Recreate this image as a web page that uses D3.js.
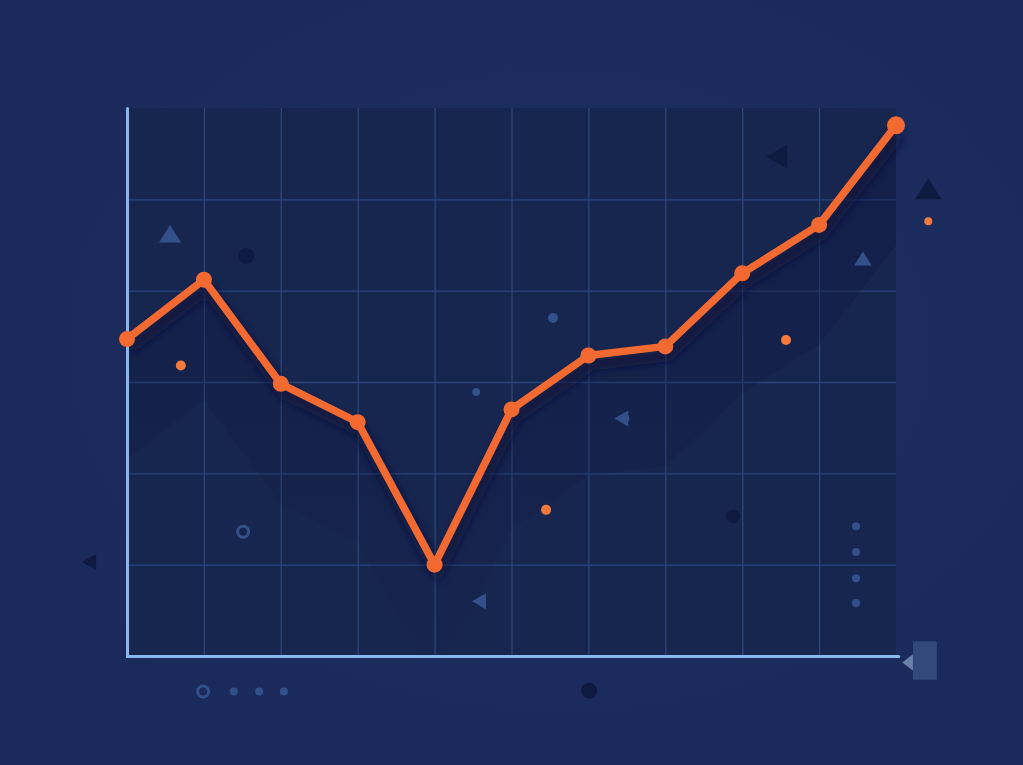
<!DOCTYPE html>
<html>
<head>
<meta charset="utf-8">
<script src="https://cdn.jsdelivr.net/npm/d3@7"></script>
<style>
  html, body { margin: 0; padding: 0; background: #1a2b5c; overflow: hidden; }
  svg { display: block; }
  .grid line { stroke: #2b4479; stroke-width: 1.4; }
  .grid path { display: none; }
  .axis path { stroke: #8ab6ee; stroke-width: 3; stroke-linecap: round; }
  .axis line, .axis text { display: none; }
</style>
</head>
<body>
<div id="chart-container"></div>
<script>
// x positions (no labels shown in the picture)
const categories = [0, 1, 2, 3, 4, 5, 6, 7, 8, 9, 10];
const values     = [3.47, 4.12, 2.98, 2.56, 1.0, 2.70, 3.29, 3.39, 4.19, 4.72, 5.81];

const xTicks = [1, 2, 3, 4, 5, 6, 7, 8, 9];
const yTicks = [1, 2, 3, 4, 5];

// decorative marks, in data units
const decoKind = ["triUp", "dot", "dotO", "dot", "dot", "triLeft", "dot", "dotO", "dot", "triLeft", "ring", "triLeft",
                  "triLeft", "triUp", "dotO", "triUp", "dotO", "dot", "dot", "dot", "dot", "ring", "dot", "dot", "dot", "dot"];
const decoX    = [0.56, 1.55, 0.70, 5.54, 4.54, 6.44, 6.48, 5.45, 7.88, 4.59, 1.51, -0.48,
                  8.47, 10.42, 10.42, 9.57, 8.57, 9.48, 9.48, 9.48, 9.48, 0.99, 1.39, 1.72, 2.04, 6.01];
const decoY    = [4.61, 4.38, 3.18, 3.70, 2.89, 2.60, 2.60, 1.60, 1.53, 0.60, 1.36, 1.03,
                  5.47, 5.10, 4.76, 4.34, 3.46, 1.42, 1.14, 0.85, 0.58, -0.39, -0.39, -0.39, -0.39, -0.38];
const decoTone = ["light", "dark", "orange", "light", "light", "light", "light", "orange", "dark", "light", "light", "dark",
                  "dark", "dark", "orange", "light", "orange", "light", "light", "light", "light", "light", "light", "light", "light", "dark"];
const decoSize = [10, 8, 5, 5, 4, 8, 4, 5, 7, 8, 7, 8,
                  12, 12, 4, 8, 5, 4, 4, 4, 4, 7, 4, 4, 4, 8];

const TONES = { light: "#34508a", dark: "#0f1a40", orange: "#f47a3c" };

const WIDTH = 1023, HEIGHT = 765;
const MARGIN = { top: 108, right: 127, bottom: 109, left: 127 };

const x = d3.scaleLinear().domain([0, 10]).range([MARGIN.left, WIDTH - MARGIN.right]);
const y = d3.scaleLinear().domain([0, 6]).range([HEIGHT - MARGIN.bottom, MARGIN.top]);

const svg = d3.select("#chart-container").append("svg")
  .attr("width", WIDTH).attr("height", HEIGHT);

const defs = svg.append("defs");
const bg = defs.append("radialGradient").attr("id", "bg").attr("cx", "55%").attr("cy", "45%").attr("r", "70%");
bg.append("stop").attr("offset", "0%").attr("stop-color", "#1c2e60");
bg.append("stop").attr("offset", "100%").attr("stop-color", "#19295a");

const under = defs.append("linearGradient").attr("id", "under").attr("x1", 0).attr("y1", 0).attr("x2", 0).attr("y2", 1);
under.append("stop").attr("offset", "0%").attr("stop-color", "#0c1740").attr("stop-opacity", 0.45);
under.append("stop").attr("offset", "100%").attr("stop-color", "#0c1740").attr("stop-opacity", 0);

defs.append("filter").attr("id", "blur").attr("x", "-10%").attr("y", "-10%").attr("width", "120%").attr("height", "120%")
  .append("feGaussianBlur").attr("stdDeviation", 5);

svg.append("rect").attr("width", WIDTH).attr("height", HEIGHT).attr("fill", "url(#bg)");

// Plot background
svg.append("rect")
  .attr("x", x(0)).attr("y", y(6))
  .attr("width", x(10) - x(0)).attr("height", y(0) - y(6))
  .attr("fill", "#17264f");

// Grid
svg.append("g").attr("class", "grid")
  .attr("transform", `translate(0, ${y(0)})`)
  .call(d3.axisBottom(x).tickValues(xTicks).tickSize(-(y(0) - y(6))).tickFormat(""));

svg.append("g").attr("class", "grid")
  .attr("transform", `translate(${x(0)}, 0)`)
  .call(d3.axisLeft(y).tickValues(yTicks).tickSize(-(x(10) - x(0))).tickFormat(""));

const data = categories.map((c, i) => ({ c, v: values[i] }));

// Shaded area under the line
const area = d3.area().x(d => x(d.c)).y0(d => y(d.v) + 120).y1(d => y(d.v) + 6);
svg.append("path").datum(data).attr("d", area).attr("fill", "url(#under)");

// Decorations
const deco = svg.append("g");
decoKind.forEach((k, i) => {
  const cx = x(decoX[i]), cy = y(decoY[i]), s = decoSize[i], col = TONES[decoTone[i]];
  if (k === "dot" || k === "dotO") {
    deco.append("circle").attr("cx", cx).attr("cy", cy).attr("r", s).attr("fill", col);
  } else if (k === "ring") {
    deco.append("circle").attr("cx", cx).attr("cy", cy).attr("r", s - 1.5)
      .attr("fill", "none").attr("stroke", col).attr("stroke-width", 3);
  } else if (k === "triUp") {
    deco.append("path").attr("fill", col)
      .attr("d", `M${cx},${cy - s}L${cx + s * 1.1},${cy + s * 0.75}L${cx - s * 1.1},${cy + s * 0.75}Z`);
  } else if (k === "triLeft") {
    deco.append("path").attr("fill", col)
      .attr("d", `M${cx - s},${cy}L${cx + s * 0.75},${cy - s * 1.0}L${cx + s * 0.75},${cy + s * 1.0}Z`);
  }
});

// small box at the end of the x axis
svg.append("rect")
  .attr("x", x(10.22)).attr("y", y(0.16))
  .attr("width", x(10.53) - x(10.22)).attr("height", y(-0.26) - y(0.16))
  .attr("fill", "#34497b");
svg.append("path").attr("fill", "#6a7fa8")
  .attr("d", `M${x(10.08)},${y(-0.07)}L${x(10.22)},${y(0.02)}L${x(10.22)},${y(-0.16)}Z`);

// Line shadow
const line = d3.line().x(d => x(d.c)).y(d => y(d.v));
svg.append("path").datum(data)
  .attr("d", line)
  .attr("transform", "translate(3, 9)")
  .attr("fill", "none")
  .attr("stroke", "#0b1538")
  .attr("stroke-opacity", 0.7)
  .attr("stroke-width", 12)
  .attr("stroke-linejoin", "round")
  .attr("filter", "url(#blur)");

// Axes
svg.append("g").attr("class", "axis")
  .attr("transform", `translate(${x(0)}, 0)`)
  .call(d3.axisLeft(y).ticks(0).tickSizeOuter(0));
svg.append("g").attr("class", "axis")
  .attr("transform", `translate(0, ${y(0)})`)
  .call(d3.axisBottom(x.copy().domain([0, 10.03]).range([x(0), x(10.03)])).ticks(0).tickSizeOuter(0));

// Main line
svg.append("path").datum(data)
  .attr("d", line)
  .attr("fill", "none")
  .attr("stroke", "#f26a32")
  .attr("stroke-width", 7.5)
  .attr("stroke-linejoin", "round")
  .attr("stroke-linecap", "round");

svg.selectAll(".pt").data(data).enter().append("circle")
  .attr("class", "pt")
  .attr("cx", d => x(d.c))
  .attr("cy", d => y(d.v))
  .attr("r", (d, i) => i === data.length - 1 ? 9 : 8)
  .attr("fill", "#f26a32");
</script>
</body>
</html>
